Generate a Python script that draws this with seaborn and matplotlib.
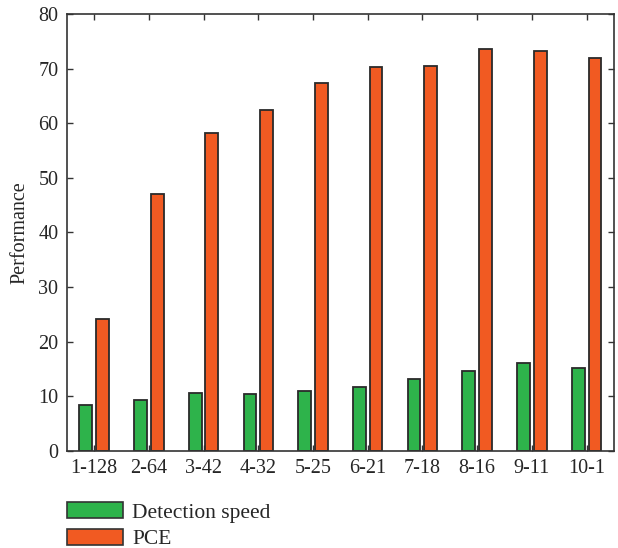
import matplotlib
matplotlib.use("Agg")
import matplotlib.pyplot as plt
import seaborn as sns
import pandas as pd

categories = ["1-128", "2-64", "3-42", "4-32", "5-25", "6-21", "7-18", "8-16", "9-11", "10-1"]
detection_speed = [8.4, 9.2, 10.6, 10.3, 11.0, 11.6, 13.2, 14.6, 16.0, 15.2]
pce = [24.2, 47.1, 58.2, 62.4, 67.3, 70.2, 70.4, 73.6, 73.2, 72.0]
series_names = ["Detection speed", "PCE"]
colors = ["#2EB34B", "#F15A22"]

df = pd.DataFrame({
    "cat": categories * 2,
    "val": detection_speed + pce,
    "series": [series_names[0]] * len(categories) + [series_names[1]] * len(categories),
})

sns.set_style("ticks")
plt.rcParams["font.family"] = ["Liberation Serif", "DejaVu Serif"]

fig = plt.figure(figsize=(6.18, 5.48), dpi=100)
ax = fig.add_axes([66.7 / 618, 1 - 450.7 / 548, (614 - 66.7) / 618, (450.7 - 14) / 548])

sns.barplot(data=df, x="cat", y="val", hue="series", palette=colors, saturation=1,
            width=0.61, gap=0.235, edgecolor="#2a2a2a", linewidth=1.3,
            ax=ax, legend=True)

ax.set_xlim(-0.5, len(categories) - 0.5)
ax.set_ylim(0, 80)
ax.set_yticks(range(0, 81, 10))
ax.set_xlabel("")
ax.set_ylabel("Performance", fontsize=14.5, labelpad=6)
ax.tick_params(axis="both", direction="in", top=True, right=True, labelsize=14.5,
               length=4, width=1.0, color="#333333", pad=6)
for s in ax.spines.values():
    s.set_linewidth(1.2)
    s.set_color("#333333")

leg = ax.legend(loc="upper left", bbox_to_anchor=(0.0, -0.118), frameon=False,
                handlelength=2.6, handleheight=0.75, fontsize=15.5, borderaxespad=0,
                borderpad=0, labelspacing=0.3, handletextpad=0.45)
for p in leg.get_patches():
    p.set_edgecolor("#333333")
    p.set_linewidth(1.2)

fig.savefig("out.png", dpi=100)
